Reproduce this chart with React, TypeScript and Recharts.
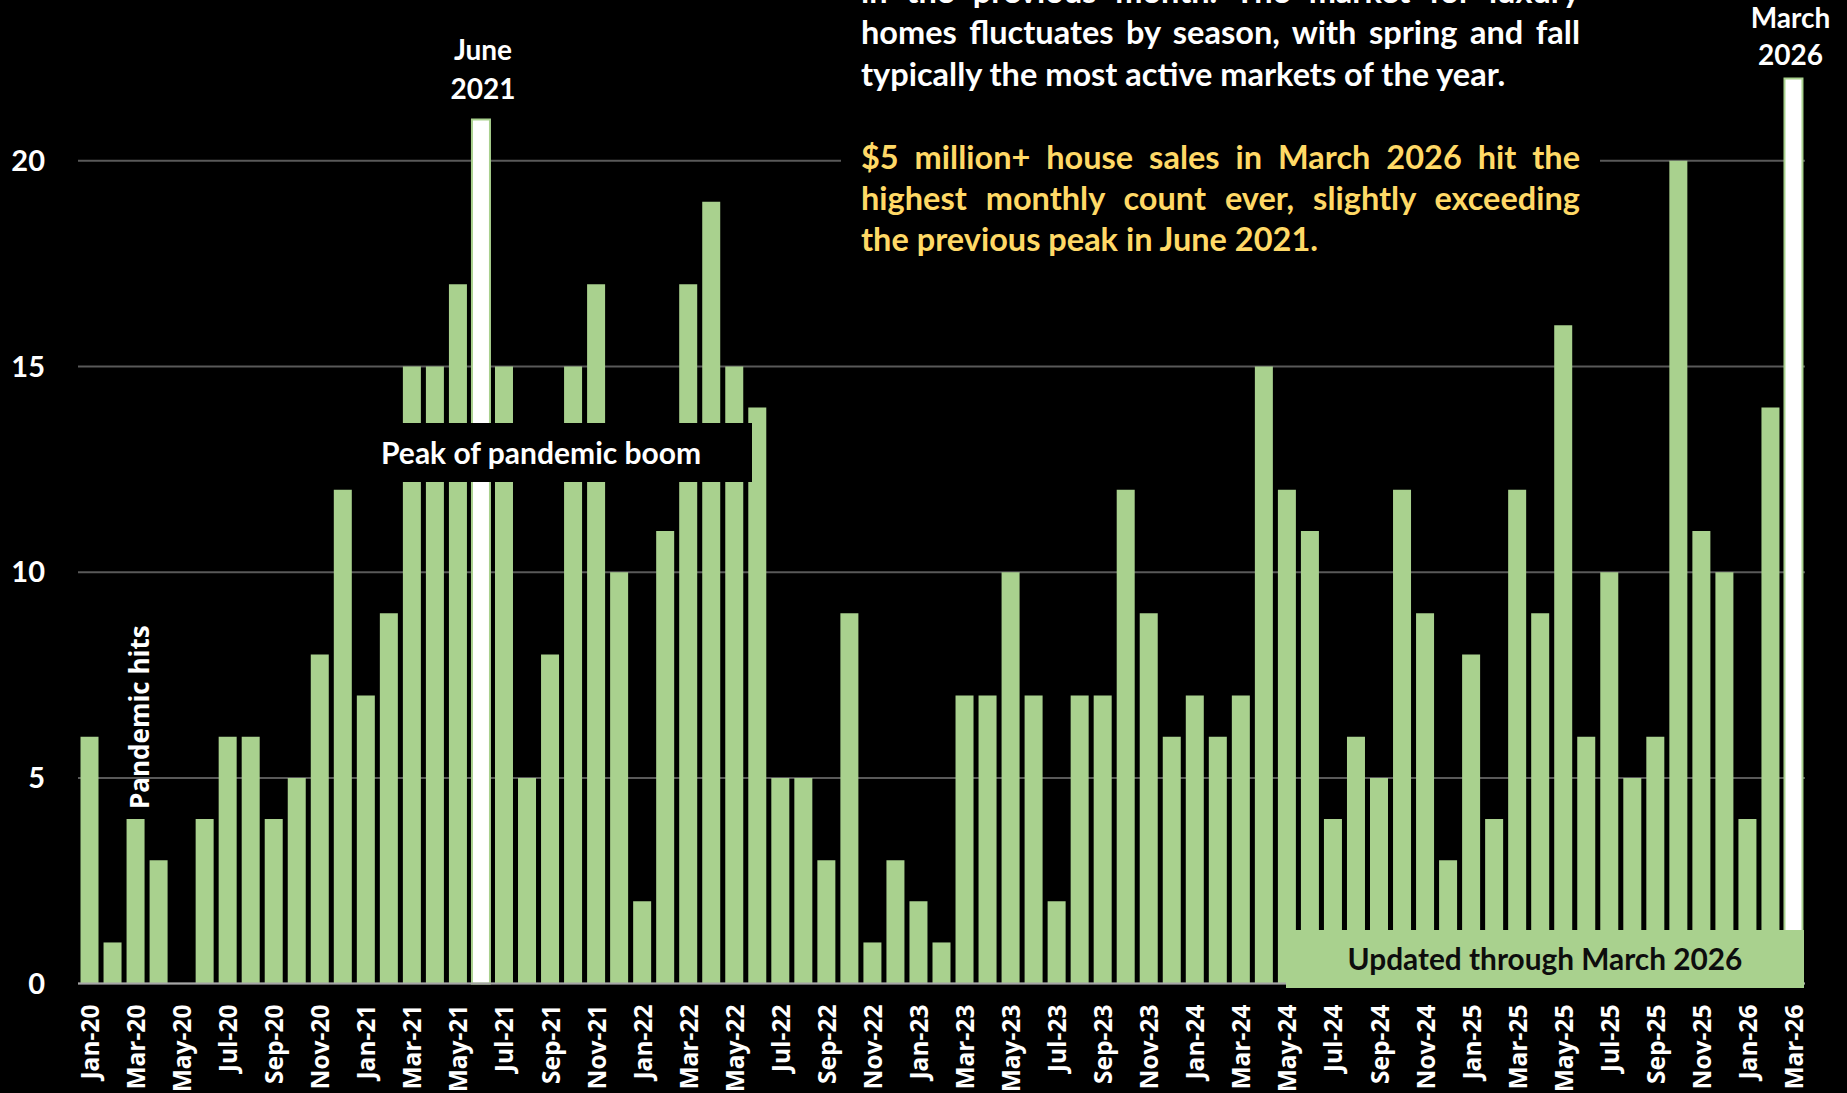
import React from "react";
import { BarChart, Bar, XAxis, YAxis, CartesianGrid, Cell, LabelList } from "recharts";

const months = [
  "Jan-20", "Feb-20", "Mar-20", "Apr-20", "May-20", "Jun-20", "Jul-20", "Aug-20", "Sep-20", "Oct-20", "Nov-20", "Dec-20",
  "Jan-21", "Feb-21", "Mar-21", "Apr-21", "May-21", "Jun-21", "Jul-21", "Aug-21", "Sep-21", "Oct-21", "Nov-21", "Dec-21",
  "Jan-22", "Feb-22", "Mar-22", "Apr-22", "May-22", "Jun-22", "Jul-22", "Aug-22", "Sep-22", "Oct-22", "Nov-22", "Dec-22",
  "Jan-23", "Feb-23", "Mar-23", "Apr-23", "May-23", "Jun-23", "Jul-23", "Aug-23", "Sep-23", "Oct-23", "Nov-23", "Dec-23",
  "Jan-24", "Feb-24", "Mar-24", "Apr-24", "May-24", "Jun-24", "Jul-24", "Aug-24", "Sep-24", "Oct-24", "Nov-24", "Dec-24",
  "Jan-25", "Feb-25", "Mar-25", "Apr-25", "May-25", "Jun-25", "Jul-25", "Aug-25", "Sep-25", "Oct-25", "Nov-25", "Dec-25",
  "Jan-26", "Feb-26", "Mar-26",
];

// $5M+ house sales per month
const sales = [
  6, 1, 4, 3, 0, 4, 6, 6, 4, 5, 8, 12,
  7, 9, 15, 15, 17, 21, 15, 5, 8, 15, 17, 10,
  2, 11, 17, 19, 15, 14, 5, 5, 3, 9, 1, 3,
  2, 1, 7, 7, 10, 7, 2, 7, 7, 12, 9, 6,
  7, 6, 7, 15, 12, 11, 4, 6, 5, 12, 9, 3,
  8, 4, 12, 9, 16, 6, 10, 5, 6, 20, 11, 10,
  4, 14, 22,
];

const highlighted = ["Jun-21", "Mar-26"];
const yTicks = [0, 5, 10, 15, 20];

const barLabels: Record<string, string[]> = {
  "Jun-21": ["June", "2021"],
  "Mar-26": ["March", "2026"],
  "Mar-20": ["Pandemic hits"],
};

const noteWhite = [
  "in the previous month. The market for luxury",
  "homes fluctuates by season, with spring and fall",
  "typically the most active markets of the year.",
];
const noteYellow = [
  "$5 million+ house sales in March 2026 hit the",
  "highest monthly count ever, slightly exceeding",
  "the previous peak in June 2021.",
];

const GREEN = "#a9d18e";
const CAL = "Lato, 'Noto Sans', sans-serif";
const WIDE = "'Open Sans', 'DejaVu Sans', sans-serif";

// plot is shifted up so the y range can run to 25 with the top cut by the page
const SHIFT = 45;

const data = months.map((m, i) => ({ month: m, sales: sales[i] }));

function MonthTick({ x, y, payload }: any) {
  return (
    <text
      transform={`translate(${x},${y + 21}) rotate(-90)`}
      textAnchor="end"
      dominantBaseline="central"
      fill="#fff"
      fontFamily={WIDE}
      fontWeight={700}
      fontSize={24.5}
    >
      {payload.value}
    </text>
  );
}

function BarNote(props: any) {
  const { x, y, width, value } = props;
  const lines = barLabels[value];
  if (!lines) return null;
  const cx = x + width / 2;
  if (lines.length === 1) {
    return (
      <text
        transform={`translate(${cx + 3},${y - 10}) rotate(-90)`}
        textAnchor="start"
        dominantBaseline="central"
        fill="#fff"
        fontFamily={WIDE}
        fontWeight={700}
        fontSize={26}
      >
        {lines[0]}
      </text>
    );
  }
  const last = value === "Mar-26";
  const gap = last ? 24 : 32;
  const step = last ? 37 : 39;
  const dx = last ? -3 : 2;
  return (
    <g>
      {lines.map((t, k) => (
        <text
          key={t}
          x={cx + dx}
          y={y - gap - (lines.length - 1 - k) * step}
          textAnchor="middle"
          dominantBaseline="central"
          fill="#fff"
          fontFamily={CAL}
          fontWeight={700}
          fontSize={28}
        >
          {t}
        </text>
      ))}
    </g>
  );
}

function NoteLine({ text, last, color }: { text: string; last?: boolean; color: string }) {
  return (
    <div
      style={{
        height: 41.4,
        lineHeight: "41.4px",
        textAlign: "justify",
        textAlignLast: last ? "left" : "justify",
        color,
        whiteSpace: "nowrap",
      }}
    >
      {text}
    </div>
  );
}

export default function App() {
  return (
    <div
      style={{
        position: "absolute",
        left: 0,
        top: 0,
        width: 1847,
        height: 1093,
        background: "#000",
        overflow: "hidden",
      }}
    >
      <div style={{ position: "absolute", left: 0, top: -SHIFT }}>
        <BarChart
          width={1847}
          height={1093 + SHIFT}
          data={data}
          margin={{ top: 0, right: 42, bottom: 0, left: 0 }}
          barCategoryGap="10.9%"
        >
          <CartesianGrid vertical={false} stroke="#595959" strokeWidth={2} />
          <XAxis
            dataKey="month"
            interval={1}
            height={109.4}
            tickLine={false}
            tickSize={0}
            tickMargin={0}
            axisLine={{ stroke: "#a6a6a6", strokeWidth: 2 }}
            tick={<MonthTick />}
          />
          <YAxis
            width={78}
            domain={[0, 25]}
            ticks={yTicks}
            axisLine={false}
            tickLine={false}
            tickSize={0}
            tickMargin={33}
            tick={{ fill: "#fff", fontFamily: CAL, fontWeight: 700, fontSize: 29 }}
          />
          <Bar dataKey="sales" isAnimationActive={false}>
            {data.map((d) => (
              <Cell
                key={d.month}
                fill={highlighted.includes(d.month) ? "#fff" : GREEN}
                stroke={highlighted.includes(d.month) ? GREEN : "none"}
                strokeWidth={2}
              />
            ))}
            <LabelList dataKey="month" content={<BarNote />} />
          </Bar>
        </BarChart>
      </div>

      {/* commentary box */}
      <div
        style={{
          position: "absolute",
          left: 841,
          top: 0,
          width: 759,
          height: 262,
          background: "#000",
        }}
      />
      <div
        style={{
          position: "absolute",
          left: 861,
          top: -30,
          width: 719,
          fontFamily: CAL,
          fontWeight: 700,
          fontSize: 32.5,
        }}
      >
        {noteWhite.map((t, i) => (
          <NoteLine key={t} text={t} color="#fff" last={i === noteWhite.length - 1} />
        ))}
        <div style={{ height: 41.4 }} />
        {noteYellow.map((t, i) => (
          <NoteLine key={t} text={t} color="#ffd966" last={i === noteYellow.length - 1} />
        ))}
      </div>

      {/* peak annotation */}
      <div
        style={{
          position: "absolute",
          left: 362,
          top: 423,
          width: 390,
          height: 59,
          background: "#000",
          color: "#fff",
          fontFamily: CAL,
          fontWeight: 700,
          fontSize: 30,
          lineHeight: "59px",
          boxSizing: "border-box",
          paddingLeft: 19,
          whiteSpace: "nowrap",
        }}
      >
        Peak of pandemic boom
      </div>

      {/* updated box */}
      <div
        style={{
          position: "absolute",
          left: 1286,
          top: 930,
          width: 518,
          height: 58,
          background: GREEN,
          color: "#0d0d0d",
          fontFamily: CAL,
          fontWeight: 700,
          fontSize: 29.8,
          lineHeight: "58px",
          textAlign: "center",
          whiteSpace: "nowrap",
        }}
      >
        Updated through March 2026
      </div>
    </div>
  );
}
